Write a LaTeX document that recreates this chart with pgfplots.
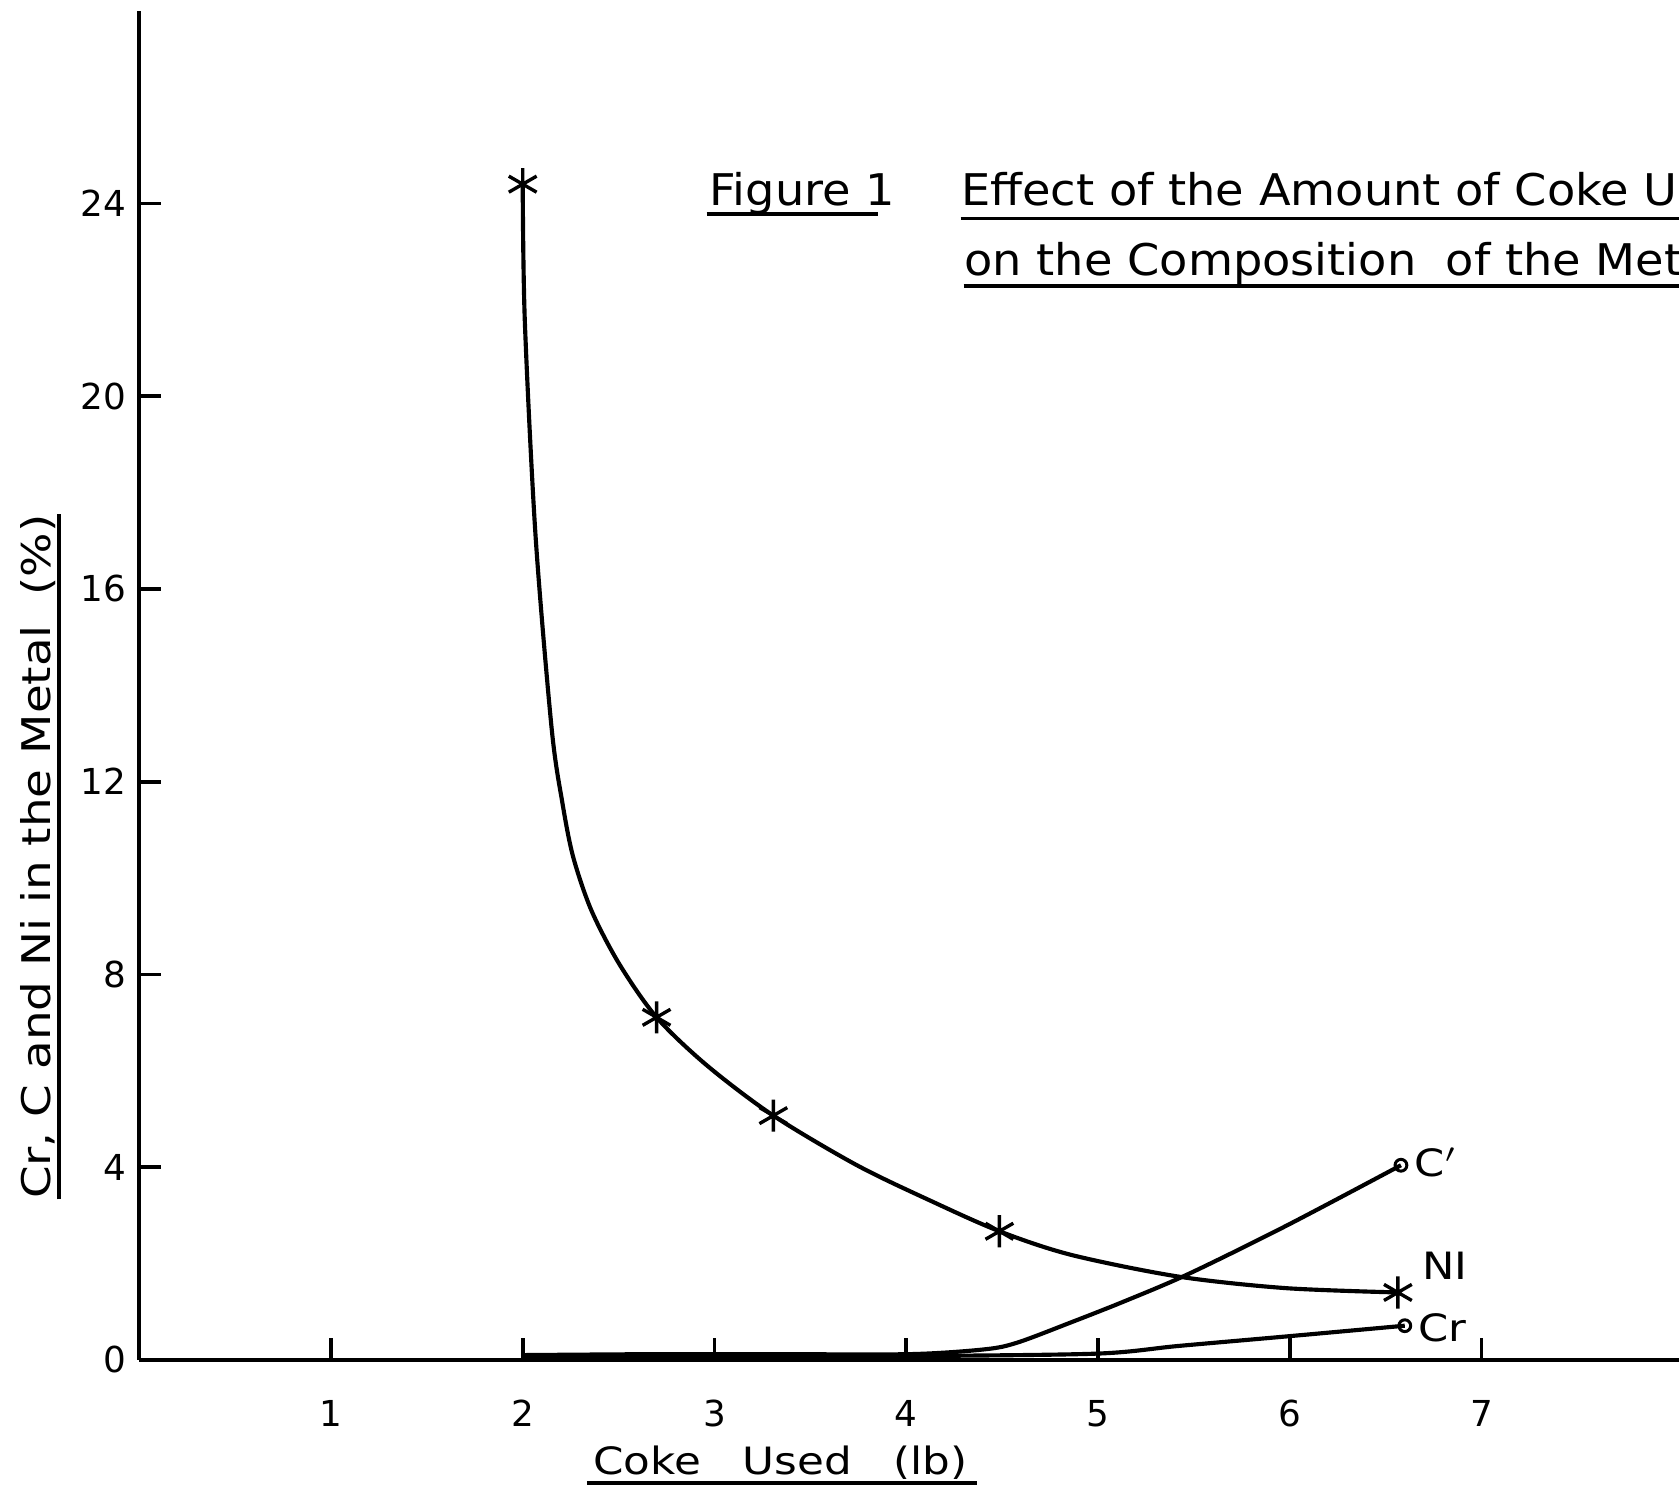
\documentclass[border=0pt]{standalone}
\usepackage{fontspec}
\setmainfont{DejaVu Sans}
\usepackage{graphicx}
\usepackage{pgfplots}
\pgfplotsset{compat=1.18}
\newcommand\sx[2]{\scalebox{#1}[1]{#2}}

\begin{document}
\begin{tikzpicture}
\useasboundingbox (-13mm,-12.1mm) rectangle (143.8mm,127mm);
\begin{axis}[
  at={(0,0)}, anchor=south west,
  scale only axis, width=143.8mm, height=126mm,
  xmin=0, xmax=8.03, ymin=0, ymax=28,
  axis lines=left,
  axis line style={-, line width=1pt},
  xtick={1,2,...,7}, ytick={0,4,...,24},
  tick align=inside, major tick length=2mm,
  tick style={black, line width=1pt},
  ticklabel style={font=\fontsize{9.5}{11}\selectfont},
  /pgf/number format/assume math mode=true,
  xticklabel style={yshift=-2.5mm},
  clip=false,
]
% Ni
\addplot[black, line width=1.1pt, smooth, tension=0.5] coordinates {
  (2.0,24.4)(2.011,21.56)(2.067,17.1)(2.151,13.1)(2.207,11.56)(2.263,10.44)
  (2.358,9.33)(2.503,8.22)(2.698,7.11)(2.961,6.11)(3.307,5.07)(3.743,4.04)
  (4.134,3.29)(4.486,2.67)(4.86,2.18)(5.419,1.73)(5.978,1.49)(6.564,1.40)
};
\addplot[black, only marks, mark=asterisk, mark size=1.5mm,
  mark options={line width=0.9pt}] coordinates {
  (2.0,24.4)(2.698,7.11)(3.307,5.07)(4.486,2.67)(6.564,1.40)
};
% C'
\addplot[black, line width=1.1pt, smooth, tension=0.5] coordinates {
  (2.0,0.10)(2.7,0.12)(3.31,0.12)(4.02,0.12)(4.41,0.22)(4.58,0.36)
  (4.86,0.78)(5.14,1.22)(5.47,1.78)(5.98,2.78)(6.58,4.04)
};
% Cr
\addplot[black, line width=1.1pt, smooth, tension=0.5] coordinates {
  (2.0,0.08)(3.31,0.08)(4.02,0.08)(4.99,0.13)(5.42,0.29)(5.99,0.49)(6.60,0.71)
};
\addplot[black, only marks, mark=o, mark size=0.55mm,
  mark options={fill=white, line width=0.8pt}] coordinates {
  (6.58,4.04)(6.60,0.71)
};
\node[anchor=west, inner sep=0.5mm, font=\fontsize{10}{12}\selectfont] at (axis cs:6.62,4.1) {\sx{1.15}{C$'$}};
\node[anchor=west, inner sep=0.5mm, font=\fontsize{10}{12}\selectfont] at (axis cs:6.66,1.96) {\sx{1.15}{NI}};
\node[anchor=west, inner sep=0.5mm, font=\fontsize{10}{12}\selectfont] at (axis cs:6.64,0.67) {\sx{1.15}{Cr}};
\end{axis}

% title
\node[anchor=base west, inner sep=0, font=\fontsize{11.6}{14}\selectfont] (fig) at (53.2mm,107.8mm) {\sx{1.06}{Figure 1}};
\draw[line width=0.9pt] (53mm,107mm) -- (69mm,107mm);
\node[anchor=base west, inner sep=0, font=\fontsize{11.6}{14}\selectfont] at (76.7mm,107.8mm) {\sx{1.06}{Effect of the Amount of Coke Used}};
\draw[line width=0.9pt] (76.7mm,106.6mm) -- (150mm,106.6mm);
\node[anchor=base west, inner sep=0, font=\fontsize{11.6}{14}\selectfont] at (77mm,101.3mm) {\sx{1.06}{on the Composition~ of the Metal}};
\draw[line width=0.9pt] (77mm,100.3mm) -- (150mm,100.3mm);

% axis titles
\node[anchor=base, inner sep=0, font=\fontsize{10}{12}\selectfont] at (59.9mm,-10.7mm) {\sx{1.16}{Coke~~~Used~~~(lb)}};
\draw[line width=0.9pt] (41.8mm,-11.5mm) -- (78.2mm,-11.5mm);
\node[anchor=base, rotate=90, inner sep=0, font=\fontsize{10.5}{12}\selectfont] at (-8.3mm,47mm) {\sx{1.185}{Cr, C and Ni in the Metal~~(\%)}};
\draw[line width=0.9pt] (-7.5mm,15mm) -- (-7.5mm,79mm);
\end{tikzpicture}
\end{document}
